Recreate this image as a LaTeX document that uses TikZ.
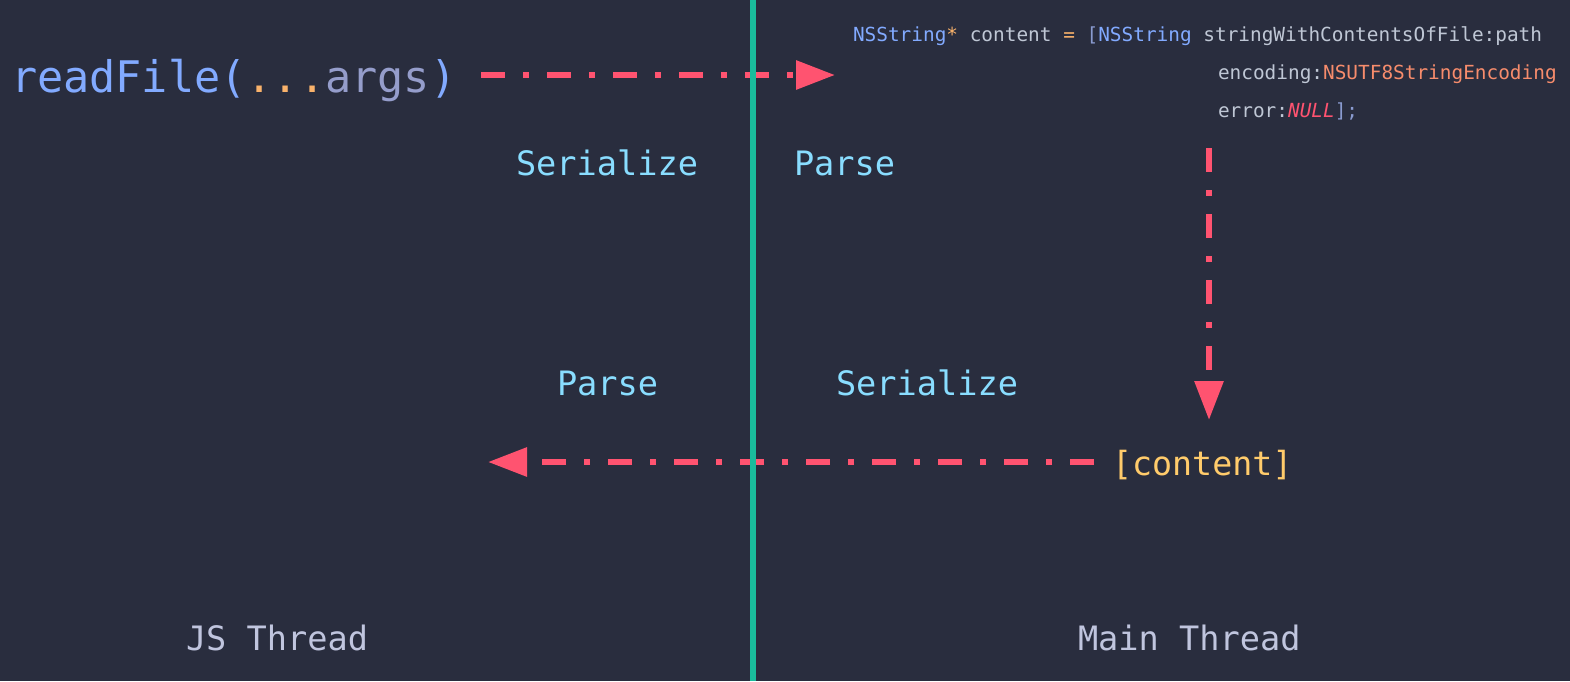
\documentclass[tikz,border=0pt]{standalone}
\usepackage{fontspec}
\newfontfamily\mono{DejaVu Sans Mono}
\usetikzlibrary{arrows.meta}
\definecolor{bg}{HTML}{292D3E}
\definecolor{cblue}{HTML}{82AAFF}
\definecolor{ccyan}{HTML}{89DDFF}
\definecolor{cyellow}{HTML}{FFCB6B}
\definecolor{corange}{HTML}{F78C6C}
\definecolor{cdots}{HTML}{F9B26B}
\definecolor{cred}{HTML}{FF5370}
\definecolor{cgreen}{HTML}{1ABC9C}
\definecolor{cgray}{HTML}{BFC7D5}
\definecolor{cthread}{HTML}{C0C5DE}
\definecolor{cargs}{HTML}{959DCB}
\definecolor{cpunct}{HTML}{8A9BD0}
\tikzset{
  txt/.style={inner sep=0pt, outer sep=0pt, anchor=base west},
  codeline/.style={txt, font=\mono\fontsize{19.4}{19.4}\selectfont, text=cgray},
  label/.style={txt, font=\mono\fontsize{33.6}{33.6}\selectfont, text=ccyan},
  thread/.style={txt, font=\mono\fontsize{33.6}{33.6}\selectfont, text=cthread},
  flow/.style={draw=cred, line width=6pt, dash pattern=on 24pt off 18pt on 6pt off 18pt,
    -{Triangle[length=39pt,width=28pt]}, fill=none},
}
\begin{document}
\begin{tikzpicture}[x=1pt,y=-1pt]
\useasboundingbox[fill=bg] (0,0) rectangle (1570,681);
% function call
\node[txt, font=\mono\fontsize{43.5}{43.5}\selectfont] (rf) at (11,92)
  {\textcolor{cblue}{readFile(}\textcolor{cdots}{...}\textcolor{cargs}{args}\textcolor{cblue}{)}};
% code
\node[codeline] (c1) at (853,41.5)
  {\textcolor{cblue}{NSString}\textcolor{cdots}{*} content \textcolor{cdots}{=} \textcolor{cpunct}{[}\textcolor{cblue}{NSString} stringWithContentsOfFile:path};
\node[codeline] (c2) at (1218,79.5) {encoding:\textcolor{corange}{NSUTF8StringEncoding}};
\node[codeline] (c3) at (1218,117) {error:\textcolor{cred}{\itshape NULL}\textcolor{cpunct}{];}};
% labels
\node[label] (ser1) at (516,175) {Serialize};
\node[label] (par1) at (794,175) {Parse};
\node[label] (par2) at (557,395) {Parse};
\node[label] (ser2) at (836,395) {Serialize};
\node[txt, font=\mono\fontsize{33.3}{33.3}\selectfont, text=cyellow] (res) at (1112,475) {[content]};
\node[thread] (js) at (186,650) {JS Thread};
\node[thread] (mt) at (1078,650) {Main Thread};
% arrow endpoints
\coordinate (a1s) at (481,75);
\coordinate (a1e) at (835,75);
\coordinate (a2s) at (1209,148);
\coordinate (a2e) at (1209,420);
\coordinate (a3s) at (1094,462);
\coordinate (a3e) at (488,462);
\draw[flow] (a1s) -- (a1e);
\draw[flow] (a2s) -- (a2e);
\draw[flow] (a3s) -- (a3e);
% divider
\coordinate (dtop) at (753,0);
\coordinate (dbot) at (753,681);
\draw[cgreen, line width=5.5pt] (dtop) -- (dbot);
\end{tikzpicture}
\end{document}
